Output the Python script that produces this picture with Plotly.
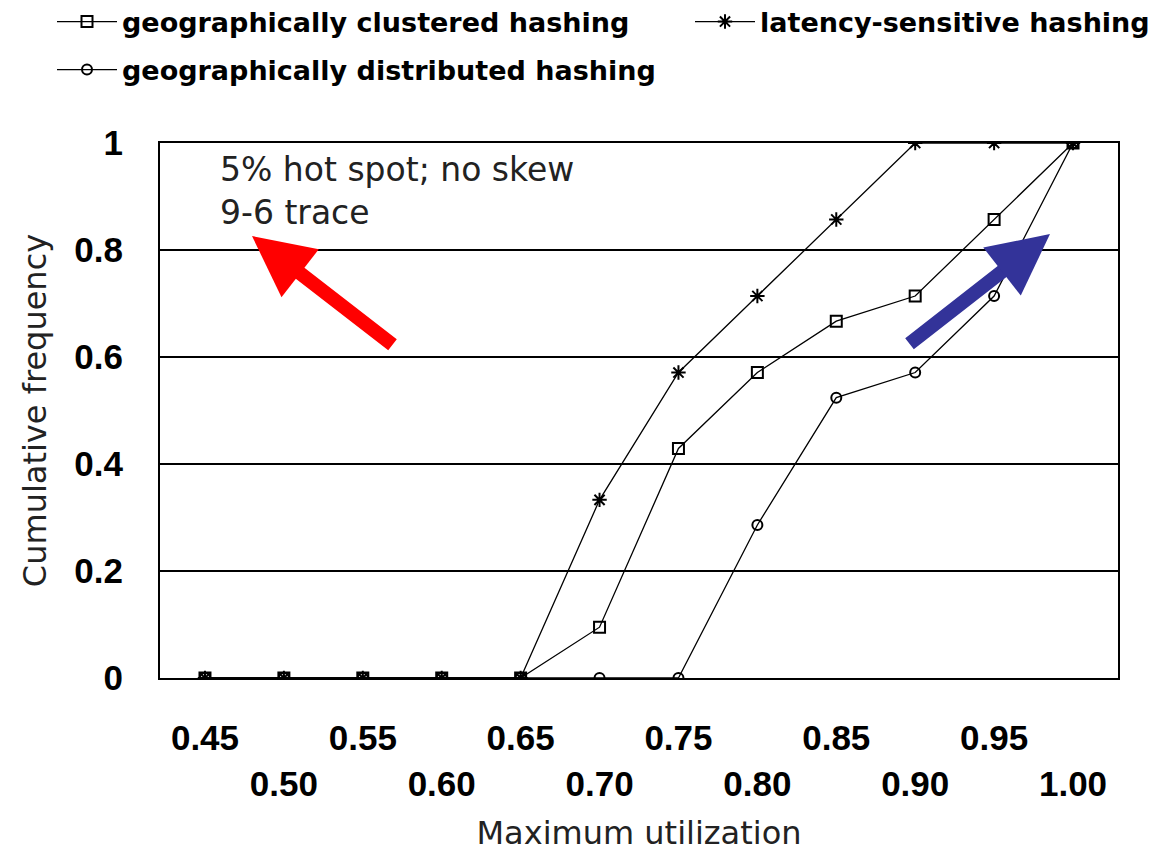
import plotly.graph_objects as go

# Maximum utilization bins (x axis)
utilization = [0.45, 0.50, 0.55, 0.60, 0.65, 0.70, 0.75, 0.80, 0.85, 0.90, 0.95, 1.00]
tick_labels = ["0.45", "0.50", "0.55", "0.60", "0.65", "0.70",
               "0.75", "0.80", "0.85", "0.90", "0.95", "1.00"]

# Cumulative frequency per hashing scheme
geo_clustered = [0, 0, 0, 0, 0, 0.095, 0.429, 0.571, 0.667, 0.714, 0.857, 1.0]
latency_sensitive = [0, 0, 0, 0, 0, 0.333, 0.571, 0.714, 0.857, 1.0, 1.0, 1.0]
geo_distributed = [0, 0, 0, 0, 0, 0, 0, 0.286, 0.524, 0.571, 0.714, 1.0]

y_ticks = [0, 0.2, 0.4, 0.6, 0.8, 1]
y_tick_labels = ["0", "0.2", "0.4", "0.6", "0.8", "1"]

# Staggered tick labels: every second label drops to a second row
staggered = [t if i % 2 == 0 else "\u00a0<br>" + t for i, t in enumerate(tick_labels)]

LEGEND_FONT = dict(family="DejaVu Sans", size=27, color="black", weight="bold")
line_style = dict(color="black", width=1.3)

fig = go.Figure()
fig.add_trace(go.Scatter(
    x=utilization, y=geo_clustered, mode="lines+markers",
    name="geographically clustered hashing", line=line_style,
    marker=dict(symbol="square-open", size=11, color="black", line=dict(width=2)),
    legend="legend",
))
fig.add_trace(go.Scatter(
    x=utilization, y=latency_sensitive, mode="lines+markers",
    name="latency-sensitive hashing", line=line_style,
    marker=dict(symbol="asterisk-open", size=12, color="black", line=dict(width=2)),
    legend="legend2",
))
fig.add_trace(go.Scatter(
    x=utilization, y=geo_distributed, mode="lines+markers",
    name="geographically distributed hashing", line=line_style,
    marker=dict(symbol="circle-open", size=10, color="black", line=dict(width=2)),
    legend="legend3",
))

PW, PH = 958, 535  # plot area in px
L, T = 160, 143


def px_x(px):
    return (px - L) / PW


def px_y(py):
    return (T + PH - py) / PH


legend_common = dict(font=LEGEND_FONT, bgcolor="rgba(0,0,0,0)", borderwidth=0,
                     itemwidth=60, xanchor="left", yanchor="middle",
                     orientation="h")

fig.update_layout(
    width=1160, height=855,
    margin=dict(l=L, r=1160 - L - PW, t=T, b=855 - T - PH, autoexpand=False),
    paper_bgcolor="white", plot_bgcolor="white",
    showlegend=True,
    legend=dict(x=px_x(52), y=px_y(22), **legend_common),
    legend2=dict(x=px_x(690), y=px_y(22), **legend_common),
    legend3=dict(x=px_x(52), y=px_y(70), **legend_common),
    xaxis=dict(
        range=[0.4215, 1.0285], tickmode="array", tickvals=utilization,
        ticktext=staggered, ticks="", showgrid=False, zeroline=False,
        showline=True, mirror=True, linecolor="black", linewidth=2,
        tickfont=dict(family="Liberation Sans", size=35, color="black", weight="bold"),
        ticklabelstandoff=28,
        title=dict(text="Maximum utilization", standoff=20,
                   font=dict(family="DejaVu Sans", size=32, color="#222222")),
    ),
    yaxis=dict(
        range=[0, 1], tickmode="array", tickvals=y_ticks, ticktext=y_tick_labels,
        ticks="", showgrid=True, gridcolor="black", gridwidth=2, zeroline=False,
        showline=True, mirror=True, linecolor="black", linewidth=2,
        tickfont=dict(family="Liberation Sans", size=35, color="black", weight="bold"),
        ticklabelstandoff=28,
        title=dict(text="Cumulative frequency", standoff=18,
                   font=dict(family="DejaVu Sans", size=32, color="#222222")),
    ),
    annotations=[
        dict(text="5% hot spot; no skew<br>9-6 trace", xref="paper", yref="paper",
             x=px_x(218), y=px_y(148), xanchor="left", yanchor="top", align="left",
             showarrow=False, font=dict(family="DejaVu Sans", size=33, color="#222222")),
        dict(text="", xref="paper", yref="paper", x=px_x(252), y=px_y(236),
             ax=142, ay=110, showarrow=True, arrowhead=2, arrowwidth=14,
             arrowsize=0.87, arrowcolor="#ff0000", standoff=0),
        dict(text="", xref="paper", yref="paper", x=px_x(1050), y=px_y(234),
             ax=-142, ay=111, showarrow=True, arrowhead=2, arrowwidth=14,
             arrowsize=0.87, arrowcolor="#333399", standoff=0),
    ],
)

fig.write_html("out.html")
